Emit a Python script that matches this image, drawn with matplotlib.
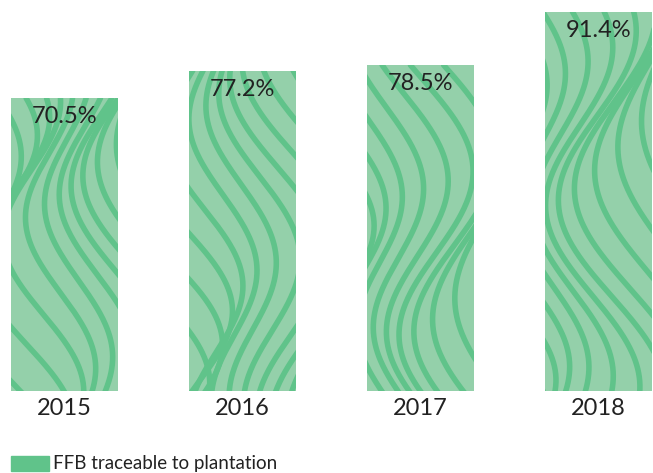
import numpy as np
import matplotlib
matplotlib.use("Agg")
import matplotlib.pyplot as plt

years = ["2015", "2016", "2017", "2018"]
values = [70.5, 77.2, 78.5, 91.4]
value_labels = ["70.5%", "77.2%", "78.5%", "91.4%"]
legend_label = "FFB traceable to plantation"

LIGHT = "#94d0aa"
DARK = "#60c38a"
TEXT = "#222222"

plt.rcParams['font.family'] = ['Lato', 'DejaVu Sans']

W, H = 653, 473
fig = plt.figure(figsize=(W / 100, H / 100), dpi=100)
base_px = 390.5
ax = fig.add_axes([0, (H - base_px) / H, 1, base_px / H])
unit = 178.0
c0 = 64.5
ax.set_xlim(-c0 / unit, (W - c0) / unit)
sy = 4.145
ax.set_ylim(0, base_px / sy)
ax.axis('off')

x = np.arange(len(years))
bw = 107 / unit
bars = ax.bar(x, values, width=bw, color=LIGHT, edgecolor='none', zorder=1)

# decorative flowing texture clipped to each bar
for bi, rect in enumerate(bars):
    x0 = rect.get_x()
    h = rect.get_height()
    hp = h * sy
    t = np.linspace(0, 400, 300)
    for i in range(14):
        u0 = -80 + i * 19 + (bi * 9) % 17
        amp = 38 + 10 * np.sin(i * 0.7 + bi)
        L = 330 + 50 * np.cos(i * 0.5 + bi * 0.8)
        ph = 0.32 * i + bi * 1.9
        xs = u0 + amp * np.sin(2 * np.pi * t / L + ph) + 0.08 * t
        line, = ax.plot(x0 + xs / unit, (hp - t) / sy, color=DARK,
                        lw=4.0, solid_capstyle='round', zorder=2)
        line.set_clip_path(rect)
    ax.text(x[bi], h - 18.5 / sy, value_labels[bi], ha='center', va='center',
            fontsize=17, color=TEXT, zorder=3)
    ax.text(x[bi], -18 / sy, years[bi], ha='center', va='center',
            fontsize=17, color=TEXT, clip_on=False)

# legend
fig.patches.append(plt.Rectangle((11 / W, (H - 470.7) / H), 38 / W, 15 / H,
                                 transform=fig.transFigure, color=DARK))
fig.text(53 / W, (H - 463.5) / H, legend_label, ha='left', va='center',
         fontsize=13.5, color=TEXT)

fig.savefig("out.png", dpi=100)
